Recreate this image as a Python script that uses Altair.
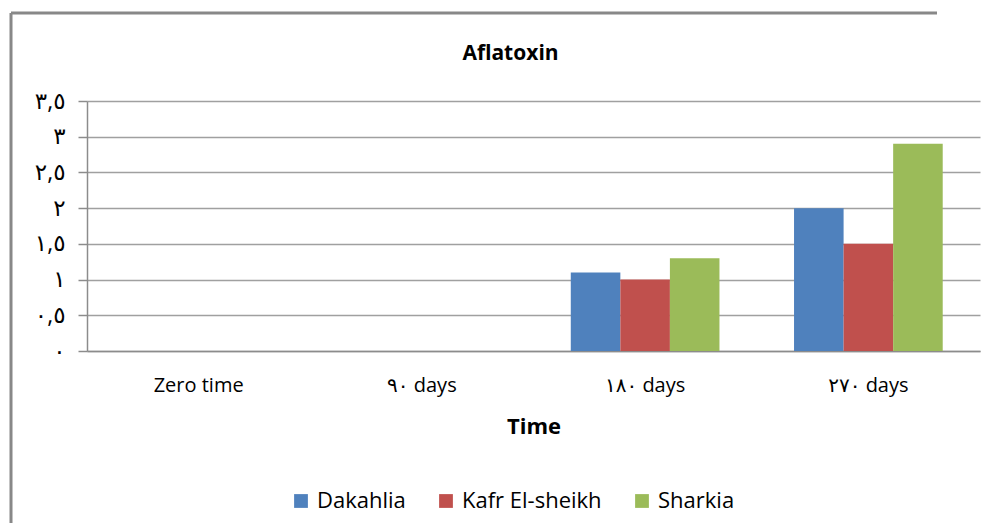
import altair as alt
import pandas as pd

categories = ["Zero time", "٩٠ days", "١٨٠ days", "٢٧٠ days"]
series = ["Dakahlia", "Kafr El-sheikh", "Sharkia"]
dakahlia = [None, None, 1.1, 2.0]
kafr = [None, None, 1.0, 1.5]
sharkia = [None, None, 1.3, 2.9]
colors = ["#4F81BD", "#C0504D", "#9BBB59"]
y_ticks = [0, 0.5, 1, 1.5, 2, 2.5, 3, 3.5]
y_tick_labels = ["٠", "٠,٥", "١", "١,٥", "٢", "٢,٥", "٣", "٣,٥"]

rows = []
for name, vals in zip(series, [dakahlia, kafr, sharkia]):
    for cat, v in zip(categories, vals):
        if v is not None:
            rows.append({"time": cat, "series": name, "value": v})
df = pd.DataFrame(rows)

label_expr = "[" + ",".join("'" + s + "'" for s in y_tick_labels) + "][round(datum.value*2)]"

FONT = "'Open Sans', 'DejaVu Sans', sans-serif"

bars = alt.Chart(df).mark_bar().encode(
    x=alt.X("time:N", sort=categories,
            scale=alt.Scale(domain=categories, paddingInner=0.334, paddingOuter=0.167),
            axis=alt.Axis(title="Time", ticks=False, labelAngle=0, labelPadding=24,
                          labelFontSize=20, labelFont=FONT, labelColor="#000",
                          titleFontSize=22, titleFont=FONT, titleFontWeight="bold",
                          titleColor="#000", titlePadding=21,
                          domainColor="#8c8c8c", domainWidth=1.5, grid=False)),
    xOffset=alt.XOffset("series:N", sort=series, scale=alt.Scale(domain=series)),
    y=alt.Y("value:Q", scale=alt.Scale(domain=[0, 3.5], nice=False),
            axis=alt.Axis(title=None, values=y_ticks, labelExpr=label_expr,
                          labelFontSize=23, labelFont=FONT, labelColor="#000",
                          labelPadding=13, tickSize=9, tickColor="#8c8c8c", tickWidth=1.5,
                          domainColor="#8c8c8c", domainWidth=1.5,
                          grid=True, gridColor="#a0a0a0", gridWidth=1.5)),
    color=alt.Color("series:N", sort=series,
                    scale=alt.Scale(domain=series, range=colors),
                    legend=alt.Legend(title=None, orient="none", legendX=203, legendY=389,
                                      direction="horizontal", symbolType="square",
                                      symbolSize=190, symbolStrokeWidth=0,
                                      labelFontSize=22, labelFont=FONT, labelColor="#000",
                                      labelOffset=5, columnPadding=29)),
)

frame = pd.DataFrame({"x": [-76, -76], "x2": [-76, 850], "y": [-88, -88], "y2": [600, -88]})
border = alt.Chart(frame).mark_rule(stroke="#888888", strokeWidth=3).encode(
    x=alt.X("x:Q", scale=None), x2="x2:Q", y=alt.Y("y:Q", scale=None), y2="y2:Q"
)

chart = alt.layer(border, bars).properties(
    width=893, height=250,
    title=alt.TitleParams("Aflatoxin", fontSize=21, font=FONT, fontWeight="bold",
                          color="#000", anchor="middle", dx=-23, offset=-52),
    autosize=alt.AutoSizeParams(type="none"),
    padding={"left": 79, "top": 93, "right": 7, "bottom": 172},
).configure_view(stroke=None)

chart.save("out.html", embed_options={"renderer": "svg", "actions": False})
